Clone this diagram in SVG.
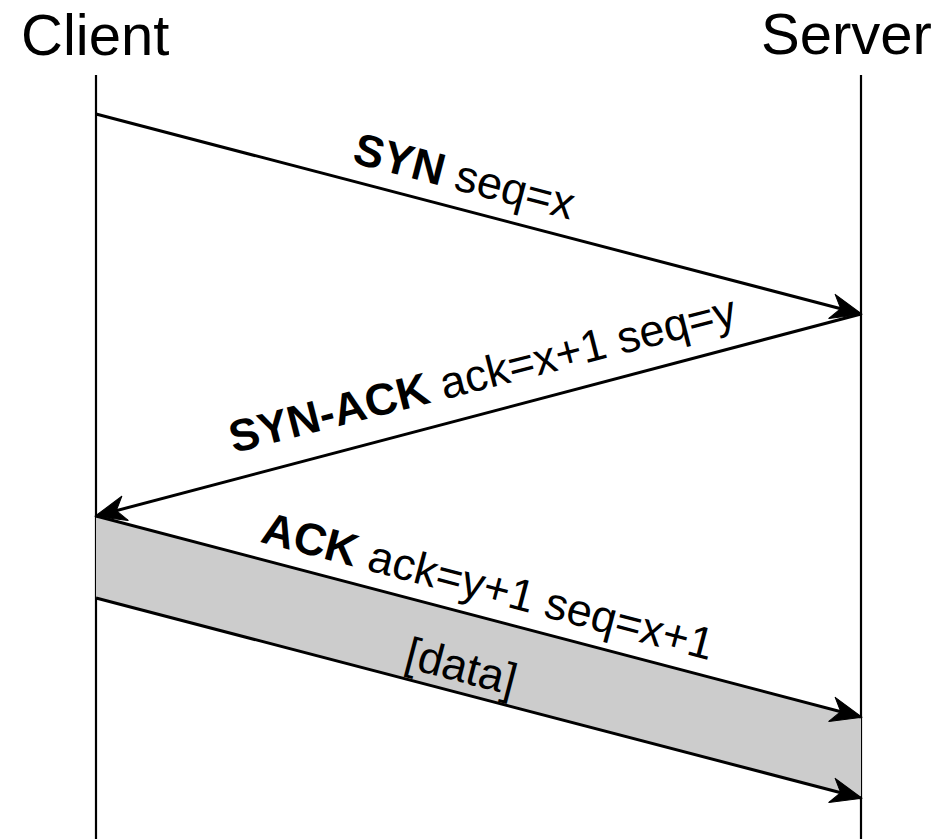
<svg xmlns="http://www.w3.org/2000/svg" width="944" height="839" viewBox="0 0 944 839">
  <style>
    .title { font-family: "Liberation Sans", Arial, sans-serif; font-size: 58px; fill: #000; }
    .lbl { font-family: "Liberation Sans", Arial, sans-serif; font-size: 45px; fill: #000; text-anchor: middle; }
    .b { font-weight: bold; }
    .life { stroke: #000; stroke-width: 2.2; fill: none; }
    .msg { stroke: #000; stroke-width: 3; fill: none; marker-end: url(#ah); }
  </style>
  <defs>
    <marker id="ah" markerUnits="userSpaceOnUse" markerWidth="36" markerHeight="32" viewBox="-34 -16 36 32" refX="0" refY="0" orient="auto" overflow="visible">
      <path d="M1,0 L-30,-12.5 L-21,0 L-30,12.5 Z" fill="#000" stroke="#000" stroke-width="1" stroke-linejoin="round"/>
    </marker>
  </defs>
  <rect width="944" height="839" fill="#fff"/>

  <g id="client">
    <text class="title" x="21" y="55">Client</text>
    <line class="life" x1="96" y1="75" x2="96" y2="839"/>
  </g>
  <g id="server">
    <text class="title" x="761" y="54">Server</text>
    <line class="life" x1="861" y1="75" x2="861" y2="839"/>
  </g>

  <g id="data-band">
    <polygon points="96,516 861,717 861,798 96,598" fill="#cccccc"/>
  </g>

  <g id="connectors">
    <line class="msg" x1="96" y1="114" x2="861" y2="314"/>
    <line class="msg" x1="861" y1="314" x2="96" y2="516"/>
    <line class="msg" x1="96" y1="516" x2="861" y2="717"/>
    <line class="msg" x1="96" y1="598" x2="861" y2="798"/>
  </g>

  <g id="labels">
    <text class="lbl" transform="translate(456,208) rotate(14.65)" y="-17.5"><tspan class="b">SYN</tspan> seq=x</text>
    <text class="lbl" transform="translate(492,412) rotate(-14.3)" y="-24"><tspan class="b">SYN-ACK</tspan> ack=x+1 seq=y</text>
    <text class="lbl" transform="translate(480,617) rotate(14.75)" y="-16.5"><tspan class="b">ACK</tspan> ack=y+1 seq=x+1</text>
    <text class="lbl" transform="translate(455,691) rotate(14.65)" y="-10">[data]</text>
  </g>
</svg>
